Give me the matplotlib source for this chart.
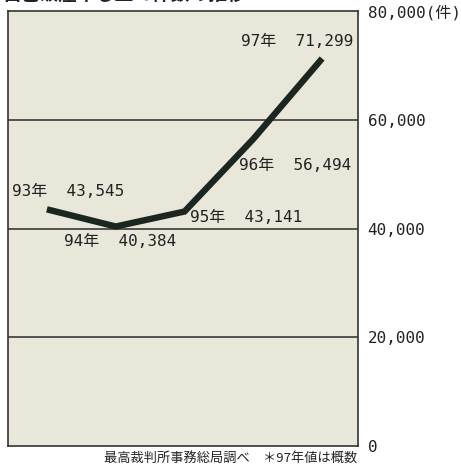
import matplotlib
matplotlib.use("Agg")
import matplotlib.pyplot as plt

plt.rcParams['font.family'] = ['Noto Sans CJK JP', 'DejaVu Sans']
MONO = ['DejaVu Sans Mono', 'Noto Sans CJK JP']

years = [93, 94, 95, 96, 97]
counts = [43545, 40384, 43141, 56494, 71299]
year_labels = ['93年', '94年', '95年', '96年', '97年']
y_ticks = [0, 20000, 40000, 60000, 80000]
y_tick_labels = ['0', '20,000', '40,000', '60,000', '80,000(件)']

title = '自己破産申し立て件数の推移'
source = '最高裁判所事務総局調べ　＊97年値は概数'

# label offsets in points relative to each point
label_offsets = [(15, 13), (3, -11), (44, -4), (30, -19), (-18, 12)]

fig = plt.figure(figsize=(4.61, 4.67), dpi=100)
ax = fig.add_axes([0.0174, 0.045, 0.759, 0.931])
ax.set_facecolor('#e9e7d9')

for y in y_ticks[1:-1]:
    ax.axhline(y, color='#3a3a3a', lw=1.2, zorder=1)

ax.plot(years, counts, color='#1c2620', lw=4.6, solid_capstyle='butt',
        solid_joinstyle='miter', zorder=3)

for x, y, yl, off in zip(years, counts, year_labels, label_offsets):
    ax.annotate(f'{yl}  {y:,}', (x, y), xytext=off, textcoords='offset points',
                fontsize=11.5, family=MONO, color='#222222',
                ha='center', va='center', zorder=4)

ax.set_xlim(92.435, 97.52)
ax.set_ylim(0, 80000)
ax.set_xticks([])
ax.yaxis.tick_right()
ax.set_yticks(y_ticks)
ax.set_yticklabels(y_tick_labels, fontsize=11.5, family=MONO, color='#222222')
ax.tick_params(axis='y', length=0, pad=7)
for s in ax.spines.values():
    s.set_color('#333333')
    s.set_linewidth(1.2)

# title sits at the very top edge, partly outside the canvas
fig.text(0.004, 1.012, title, fontsize=13.5, fontweight='bold', ha='left',
         va='center', color='#222222')
fig.text(0.775, 0.019, source, fontsize=9.5, ha='right', va='center',
         color='#222222')

fig.savefig('out.png', dpi=100)
